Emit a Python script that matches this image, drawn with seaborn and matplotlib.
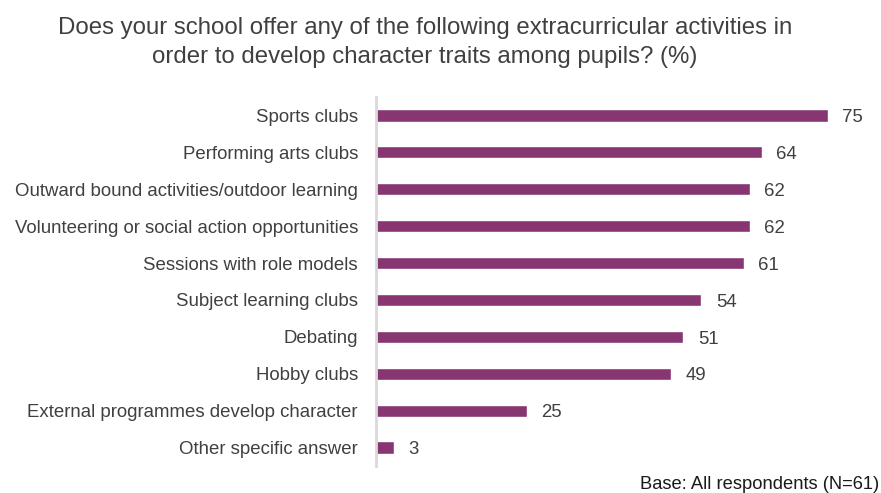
import matplotlib
matplotlib.use("Agg")
import matplotlib.pyplot as plt
import seaborn as sns
import pandas as pd

activities = [
    "Sports clubs",
    "Performing arts clubs",
    "Outward bound activities/outdoor learning",
    "Volunteering or social action opportunities",
    "Sessions with role models",
    "Subject learning clubs",
    "Debating",
    "Hobby clubs",
    "External programmes develop character",
    "Other specific answer",
]
percentages = [75, 64, 62, 62, 61, 54, 51, 49, 25, 3]

df = pd.DataFrame({"activity": activities, "pct": percentages})

sns.set_theme(style="white")
plt.rcParams["font.family"] = ["Liberation Sans", "DejaVu Sans"]

text_color = "#404040"
bar_color = "#873672"

fig = plt.figure(figsize=(8.81, 4.93), dpi=100)
ax = fig.add_axes([376 / 881, 1 - 466 / 493, (858 - 376) / 881, (466 - 97) / 493])

sns.barplot(data=df, x="pct", y="activity", orient="h", color=bar_color,
            width=0.33, saturation=1, ax=ax)

ax.set_xlim(0, 80)
ax.set_ylim(9.5, -0.5)
ax.set_xlabel("")
ax.set_ylabel("")
ax.set_xticks([])
for side in ["top", "right", "bottom"]:
    ax.spines[side].set_visible(False)
ax.spines["left"].set_color("#d9d9d9")
ax.spines["left"].set_linewidth(2)
ax.tick_params(axis="y", length=0, pad=13, labelsize=13.4, labelcolor=text_color)

for i, v in enumerate(percentages):
    ax.text(v + 2.4, i + 0.06, f"{v}", va="center", ha="left", fontsize=13.4,
            color=text_color)

fig.text(0.482, 0.965,
         "Does your school offer any of the following extracurricular activities in\n"
         "order to develop character traits among pupils? (%)",
         ha="center", va="top", fontsize=17.3, color=text_color, linespacing=1.4)

fig.text(0.998, 0.0, "Base: All respondents (N=61)", ha="right", va="bottom",
         fontsize=13.2, color="#1a1a1a")

fig.savefig("out.png", dpi=100)
